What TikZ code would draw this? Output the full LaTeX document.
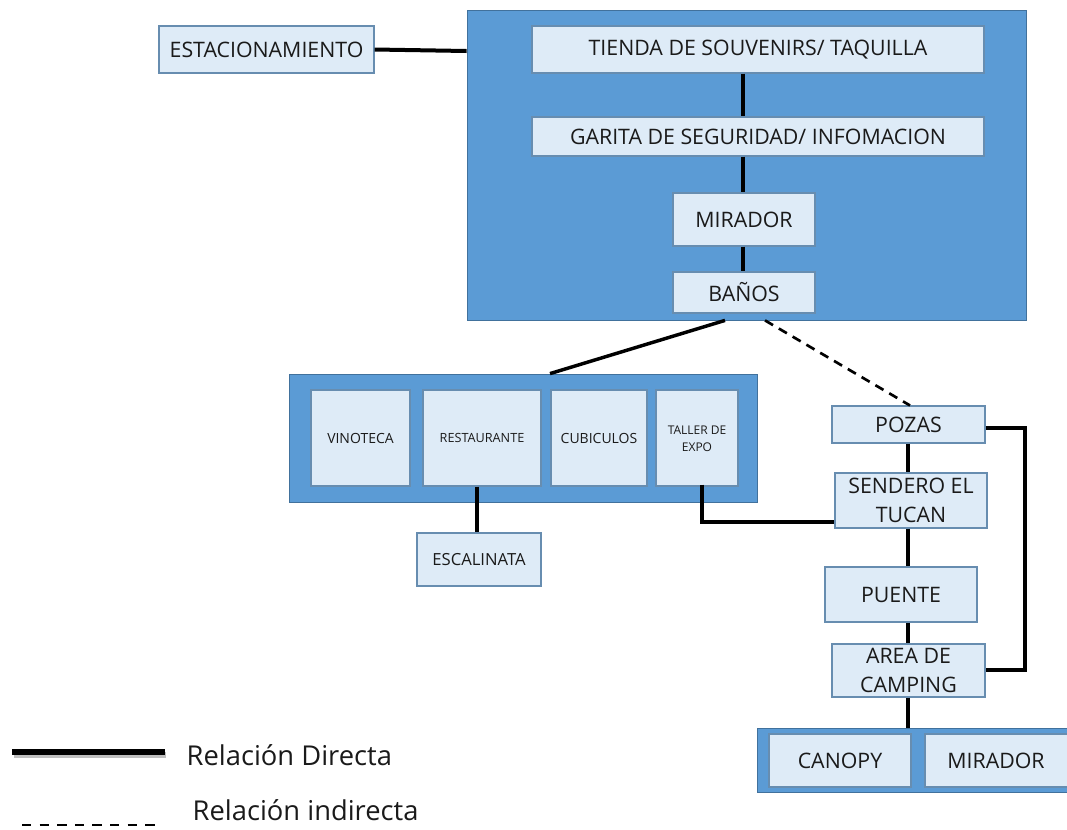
\documentclass[tikz,border=0pt]{standalone}
\usepackage{fontspec}
\setmainfont{Open Sans}
\usetikzlibrary{fit}
\definecolor{bluebg}{HTML}{5B9BD5}
\definecolor{blueedge}{HTML}{41719C}
\definecolor{lightbox}{HTML}{DEEBF7}
\definecolor{txt}{HTML}{1A1A1A}
\tikzset{
  bigbox/.style={draw=blueedge, fill=bluebg, line width=0.6pt, inner sep=0pt},
  lbox/.style={draw=blueedge!80, fill=lightbox, line width=0.8pt, inner sep=0pt},
  ltext/.style={align=center, text=txt, inner sep=0pt, font=\fontsize{16}{21}\selectfont},
  conn/.style={line width=3pt, black},
  iconn/.style={line width=2pt, black, dash pattern=on 7pt off 5pt},
}
\begin{document}
\begin{tikzpicture}[x=0.75pt,y=-0.75pt]
\useasboundingbox (0,0) rectangle (1067,829);
% big containers
\node[bigbox, fit={(467,10)(1026,320)}] (top) {};
\node[bigbox, fit={(289,374)(757,502)}] (mid) {};
\node[bigbox, fit={(757,728)(1075,792)}] (bot) {};
% top boxes
\node[lbox, fit={(159,26)(374,73)}] (est) {};
\node[ltext] (est-t) at (est.center) {ESTACIONAMIENTO};
\node[lbox, fit={(532,26)(984,73)}] (tienda) {};
\node[ltext] (tienda-t) at (tienda.center) {TIENDA DE SOUVENIRS/ TAQUILLA};
\node[lbox, fit={(532,117)(984,156)}] (garita) {};
\node[ltext] (garita-t) at (garita.center) {GARITA DE SEGURIDAD/ INFOMACION};
\node[lbox, fit={(673,193)(815,246)}] (mir1) {};
\node[ltext] (mir1-t) at (mir1.center) {MIRADOR};
\node[lbox, fit={(673,272)(815,313)}] (banos) {};
\node[ltext] (banos-t) at (banos.center) {BAÑOS};
% middle boxes
\node[lbox, fit={(311,390)(410,486)}] (vino) {};
\node[ltext, font=\fontsize{10.5}{13}\selectfont] (vino-t) at (vino.center) {VINOTECA};
\node[lbox, fit={(423,390)(541,486)}] (rest) {};
\node[ltext, font=\fontsize{9.5}{12}\selectfont] (rest-t) at (rest.center) {RESTAURANTE};
\node[lbox, fit={(551,390)(647,486)}] (cub) {};
\node[ltext, font=\fontsize{10.5}{13}\selectfont] (cub-t) at (cub.center) {CUBICULOS};
\node[lbox, fit={(656,390)(738,486)}] (taller) {};
\node[ltext, font=\fontsize{9}{12.5}\selectfont] (taller-t) at ([yshift=-0.5pt]taller.center) {TALLER DE\\EXPO};
\node[lbox, fit={(417,533)(541,586)}] (esc) {};
\node[ltext, font=\fontsize{12.5}{15}\selectfont] (esc-t) at (esc.center) {ESCALINATA};
% right column
\node[lbox, fit={(832,406)(985,443)}] (pozas) {};
\node[ltext] (pozas-t) at (pozas.center) {POZAS};
\node[lbox, fit={(835,473)(987,528)}] (send) {};
\node[ltext, font=\fontsize{16}{21.5}\selectfont] (send-t) at (send.center) {SENDERO EL\\TUCAN};
\node[lbox, fit={(825,567)(977,622)}] (puente) {};
\node[ltext] (puente-t) at (puente.center) {PUENTE};
\node[lbox, fit={(832,644)(985,697)}] (camp) {};
\node[ltext, font=\fontsize{16}{21.5}\selectfont] (camp-t) at (camp.center) {AREA DE\\CAMPING};
\node[lbox, fit={(769,734)(911,787)}] (canopy) {};
\node[ltext] (canopy-t) at (canopy.center) {CANOPY};
\node[lbox, fit={(925,734)(1075,787)}] (mir2) {};
\node[ltext] (mir2-t) at ([xshift=-3pt]mir2.center) {MIRADOR};
% connectors
\draw[conn] (est.east) -- (top.west |- 0,51);
\draw[conn] (tienda.south -| 743,0) -- (garita.north -| 743,0);
\draw[conn] (garita.south -| 743,0) -- (mir1.north -| 743,0);
\draw[conn] (mir1.south -| 743,0) -- (banos.north -| 743,0);
\draw[conn, line width=2.6pt] (top.south -| 725,0) -- (mid.north -| 550,0);
\draw[iconn] (top.south -| 765,0) -- (pozas.north -| 910,0);
\draw[conn] (rest.south -| 477,0) -- (esc.north -| 477,0);
\coordinate (tk) at (702,522);
\draw[conn] (taller.south -| 702,0) ++(0,-2) -- (tk) -- (send.west |- tk);
\draw[conn] (pozas.south -| 908,0) -- (send.north -| 908,0);
\draw[conn] (send.south -| 908,0) -- (puente.north -| 908,0);
\draw[conn] (puente.south -| 908,0) -- (camp.north -| 908,0);
\draw[conn] (camp.south -| 908,0) -- (bot.north -| 908,0);
\coordinate (rt) at (1025,428);
\coordinate (rb) at (1025,670);
\draw[conn] (pozas.east |- rt) -- (rt) -- (rb) -- (camp.east |- rb);
% legend
\coordinate (l1a) at (12,752);
\coordinate (l1b) at (165,752);
\draw[line width=4pt, black!25] (14,755) -- (166,755);
\draw[line width=3.8pt, black] (l1a) -- (l1b);
\node[anchor=west, font=\fontsize{20.5}{24}\selectfont, text=txt] (lt1) at (182,755) {Relación Directa};
\coordinate (l2a) at (22,825);
\coordinate (l2b) at (160,825);
\draw[line width=1.6pt, black, dash pattern=on 7pt off 6.2pt] (l2a) -- (l2b);
\node[anchor=west, font=\fontsize{20.5}{24}\selectfont, text=txt] (lt2) at (188,810) {Relación indirecta};
\end{tikzpicture}
\end{document}
